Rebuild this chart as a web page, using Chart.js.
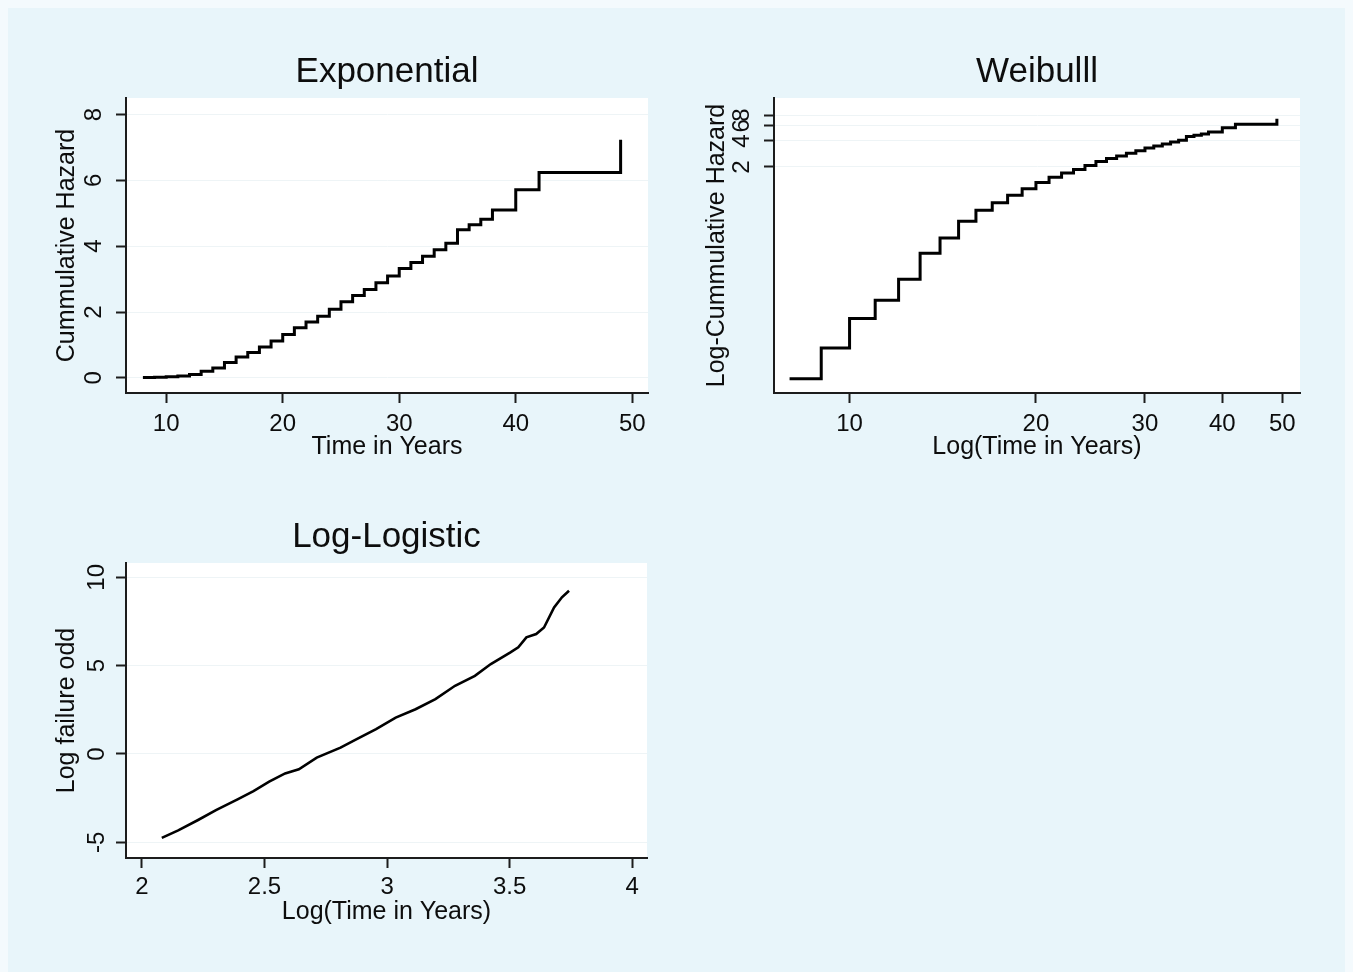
<!DOCTYPE html>
<html>
<head>
<meta charset="utf-8">
<script src="https://cdn.jsdelivr.net/npm/chart.js@4.4.1/dist/chart.umd.min.js"></script>
<style>
  html, body { margin:0; padding:0; width:1353px; height:972px; background:#f4fafd; overflow:hidden; }
  #bg { position:absolute; left:8px; top:8px; width:1337px; height:964px; background:#e8f5fa; }
  canvas { position:absolute; }
</style>
</head>
<body>
<div id="bg"></div>
<canvas id="cExp" width="640" height="450" style="left:20px; top:30px;"></canvas>
<canvas id="cWei" width="650" height="450" style="left:680px; top:30px;"></canvas>
<canvas id="cLL" width="640" height="450" style="left:20px; top:495px;"></canvas>
<script>
// ---- Data ----
const survTimes = [8, 9, 10, 11, 12, 13, 14, 15, 16, 17, 18, 19, 20, 21, 22, 23, 24, 25, 26, 27, 28, 29, 30, 31, 32, 33, 34, 35, 36, 37, 38, 40, 42, 49];
const cumHazard = [0.007, 0.016, 0.035, 0.057, 0.10, 0.20, 0.30, 0.47, 0.63, 0.77, 0.94, 1.12, 1.32, 1.52, 1.70, 1.87, 2.08, 2.31, 2.50, 2.68, 2.89, 3.09, 3.32, 3.50, 3.69, 3.89, 4.09, 4.50, 4.65, 4.82, 5.10, 5.71, 6.24, 7.23];

const llLogTime = [2.081, 2.148, 2.229, 2.302, 2.39, 2.455, 2.519, 2.584, 2.64, 2.713, 2.81, 2.874, 2.955, 3.035, 3.116, 3.197, 3.277, 3.358, 3.423, 3.503, 3.535, 3.568, 3.608, 3.64, 3.681, 3.713, 3.742];
const llLogOdds = [-4.75, -4.33, -3.74, -3.18, -2.57, -2.10, -1.57, -1.10, -0.87, -0.21, 0.36, 0.83, 1.40, 2.06, 2.53, 3.10, 3.86, 4.42, 5.09, 5.75, 6.04, 6.60, 6.79, 7.16, 8.29, 8.87, 9.24];

const expXTicks = [10, 20, 30, 40, 50];
const expYTicks = [0, 2, 4, 6, 8];
const weiXTicks = [10, 20, 30, 40, 50];
const weiYTicks = [2, 4, 6, 8];
const llXTicks = [2, 2.5, 3, 3.5, 4];
const llYTicks = [-5, 0, 5, 10];

const panelTitles = ['Exponential', 'Weibulll', 'Log-Logistic'];
const xTitles = ['Time in Years', 'Log(Time in Years)', 'Log(Time in Years)'];
const yTitles = ['Cummulative Hazard', 'Log-Cummulative Hazard', 'Log failure odd'];

// ---- Styling helpers ----
const FONT = "'Liberation Sans', Arial, sans-serif";
const INK = '#0d0d0d';
const AXIS = '#1c1c1c';
const GRID = '#eef4f6';

const plotBg = {
  id: 'plotBg',
  beforeDraw(chart) {
    const { ctx, chartArea: a } = chart;
    ctx.save();
    ctx.fillStyle = '#ffffff';
    ctx.fillRect(a.left, a.top, a.right - a.left, a.bottom - a.top);
    ctx.restore();
  }
};

function fixedTicks(values) {
  return s => { s.ticks = values.map(v => ({ value: v })); };
}

function xAxis(type, min, max, ticks, title, fitH, labelPad, titlePadBottom) {
  return {
    type, min, max, position: 'bottom',
    afterBuildTicks: fixedTicks(ticks),
    afterFit: s => { s.height = fitH; },
    border: { display: true, color: AXIS, width: 2 },
    grid: { drawOnChartArea: false, drawTicks: true, tickLength: 10, tickWidth: 2, tickColor: AXIS, color: AXIS },
    ticks: { autoSkip: false, minRotation: 0, maxRotation: 0, padding: labelPad, color: INK,
             font: { family: FONT, size: 24 }, callback: v => String(v) },
    title: { display: true, text: title, color: INK, font: { family: FONT, size: 25 },
             padding: { top: 0, bottom: titlePadBottom } }
  };
}

function yAxis(type, min, max, ticks, title, fitW, labelPad, titlePadTop) {
  return {
    type, min, max, position: 'left',
    afterBuildTicks: fixedTicks(ticks),
    afterFit: s => { s.width = fitW; },
    border: { display: true, color: AXIS, width: 2 },
    grid: { drawOnChartArea: true, drawTicks: true, color: GRID, lineWidth: 1, tickLength: 10, tickWidth: 2, tickColor: AXIS },
    ticks: { autoSkip: false, minRotation: 90, maxRotation: 90, crossAlign: 'center', padding: labelPad, color: INK,
             font: { family: FONT, size: 24 }, callback: v => String(v) },
    title: { display: true, text: title, color: INK, font: { family: FONT, size: 25 },
             padding: { top: titlePadTop, bottom: 0 } }
  };
}

function makeChart(id, title, points, stepped, lineW, xs, ys, rightPad) {
  return new Chart(document.getElementById(id), {
    type: 'line',
    data: {
      datasets: [{
        data: points,
        borderColor: '#000',
        borderWidth: lineW,
        pointRadius: 0,
        fill: false,
        tension: 0,
        stepped: stepped,
        borderJoinStyle: 'miter'
      }]
    },
    options: {
      responsive: false,
      animation: false,
      devicePixelRatio: 1,
      layout: { padding: { left: 0, right: rightPad, top: 0, bottom: 0 } },
      plugins: {
        legend: { display: false },
        tooltip: { enabled: false },
        title: { display: true, text: title, fullSize: false, color: INK,
                 font: { family: FONT, size: 35, weight: 'normal' },
                 padding: { top: 21.5, bottom: 4.5 } }
      },
      scales: { x: xs, y: ys }
    },
    plugins: [plotBg]
  });
}

const hazardPoints = survTimes.map((t, i) => ({ x: t, y: cumHazard[i] }));
const llPoints = llLogTime.map((t, i) => ({ x: t, y: llLogOdds[i] }));

makeChart('cExp', panelTitles[0], hazardPoints, true, 3,
  xAxis('linear', 6.55, 51.35, expXTicks, xTitles[0], 87, 7, 18),
  yAxis('linear', -0.46, 8.5, expYTicks, yTitles[0], 106, 15, 32), 12);

makeChart('cWei', panelTitles[1], hazardPoints, true, 3,
  xAxis('logarithmic', 7.55, 53.4, weiXTicks, xTitles[1], 87, 7, 18),
  yAxis('logarithmic', 0.0048, 12.6, weiYTicks, yTitles[1], 94, 15, 22), 30);

makeChart('cLL', panelTitles[2], llPoints, false, 2.6,
  xAxis('linear', 1.935, 4.06, llXTicks, xTitles[2], 87, 5, 18),
  yAxis('linear', -5.89, 10.81, llYTicks, yTitles[2], 106, 5.5, 32), 13);
</script>
</body>
</html>
